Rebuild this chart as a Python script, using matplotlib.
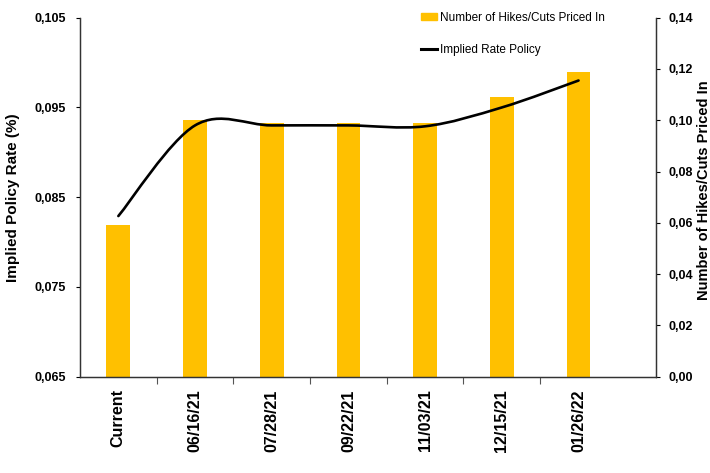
from matplotlib import pyplot as plt
from matplotlib.path import Path
from matplotlib.patches import PathPatch
from matplotlib.lines import Line2D
from matplotlib.ticker import FuncFormatter, FixedLocator
import numpy as np

categories = ['Current', '06/16/21', '07/28/21', '09/22/21', '11/03/21', '12/15/21', '01/26/22']
hikes_priced = [0.059, 0.100, 0.099, 0.099, 0.099, 0.109, 0.119]
implied_rate = [0.0829, 0.0930, 0.0930, 0.0930, 0.0929, 0.0950, 0.0980]

bar_color = '#FFC000'
plt.rcParams['font.family'] = ['Liberation Sans', 'DejaVu Sans']

fig = plt.figure(figsize=(7.1, 4.73), dpi=100)
ax = fig.add_axes([80/710, 1-376.7/473, 576/710, 359/473])
ax2 = ax.twinx()

x = np.arange(len(categories))

# bars on the right axis
ax2.bar(x, hikes_priced, width=0.31, color=bar_color, zorder=2)

# smoothed line (Excel-style, Catmull-Rom as cubic Bezier) on the left axis
pts = np.column_stack([x, implied_rate]).astype(float)
ext = np.vstack([pts[0], pts, pts[-1]])
verts = [tuple(pts[0])]
codes = [Path.MOVETO]
for i in range(len(pts) - 1):
    p0, p1, p2, p3 = ext[i], ext[i + 1], ext[i + 2], ext[i + 3]
    c1 = p1 + (p2 - p0) / 6
    c2 = p2 - (p3 - p1) / 6
    verts += [tuple(c1), tuple(c2), tuple(p2)]
    codes += [Path.CURVE4] * 3
ax.add_patch(PathPatch(Path(verts, codes), fill=False, edgecolor='black',
                       lw=1.9, capstyle='round', zorder=3))

ax.set_zorder(ax2.get_zorder() + 1)
ax.patch.set_visible(False)

ax.set_xlim(-0.5, 7.01)
ax.set_ylim(0.065, 0.105)
ax2.set_ylim(0, 0.14)

ax.set_yticks([0.065, 0.075, 0.085, 0.095, 0.105])
ax2.set_yticks(np.arange(0, 0.141, 0.02))
ax.yaxis.set_major_formatter(FuncFormatter(lambda v, p: f'{v:.3f}'.replace('.', ',')))
ax2.yaxis.set_major_formatter(FuncFormatter(lambda v, p: f'{v:.2f}'.replace('.', ',')))

ax.set_xticks(x)
ax.set_xticklabels(categories, rotation=90, fontweight='bold', fontsize=11.5)
ax.xaxis.set_minor_locator(FixedLocator(np.arange(0.5, 5.6, 1)))
ax.tick_params(axis='x', which='major', length=0, pad=9)
ax.tick_params(axis='x', which='minor', length=5, width=0.8, color='#555555', direction='out')
ax.tick_params(axis='y', length=3, width=0.8, pad=7, labelsize=9)
ax2.tick_params(axis='y', direction='out', length=3, width=0.8, pad=6, labelsize=9)
for lab in ax.get_yticklabels() + ax2.get_yticklabels():
    lab.set_fontweight('bold')

for a in (ax, ax2):
    a.spines['top'].set_visible(False)
    for s in ('left', 'right', 'bottom'):
        a.spines[s].set_linewidth(0.9)
        a.spines[s].set_color('#333333')

fig.text(13/710, 1-198/473, 'Implied Policy Rate (%)', rotation=90, ha='center', va='center',
         fontsize=11, fontweight='bold')
fig.text(704/710, 1-190/473, 'Number of Hikes/Cuts Priced In', rotation=90, ha='center', va='center',
         fontsize=10.5, fontweight='bold')

handles = [plt.Rectangle((0, 0), 1, 1, color=bar_color),
           Line2D([0], [0], color='black', lw=2.2)]
fig.legend(handles, ['Number of Hikes/Cuts Priced In', 'Implied Rate Policy'],
           loc='upper left', bbox_to_anchor=(410/710, 1-1/473), frameon=False,
           prop={'size': 8.5},
           handlelength=1.4, handleheight=0.6, handletextpad=0.2, labelspacing=1.7)

fig.savefig('out.png', dpi=100)
